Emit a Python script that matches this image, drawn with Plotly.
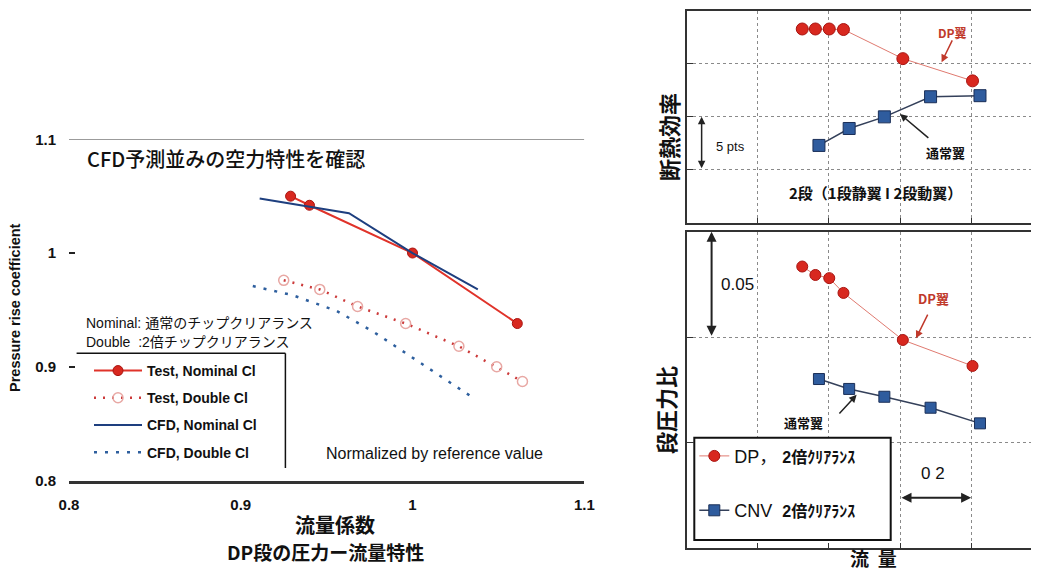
import plotly.graph_objects as go

OFF = 8  # page body margin offset of the rendered figure
W, H = 1039 - 2 * OFF, 579 - 2 * OFF

# ---------------- Left chart data (normalized) ----------------
test_nom_x = [0.929, 0.940, 1.000, 1.061]
test_nom_y = [1.050, 1.042, 1.000, 0.938]
test_dbl_x = [0.925, 0.946, 0.968, 0.996, 1.027, 1.049, 1.064]
test_dbl_y = [0.976, 0.968, 0.953, 0.938, 0.918, 0.900, 0.887]
cfd_nom_x = [0.911, 0.963, 1.000, 1.038]
cfd_nom_y = [1.048, 1.035, 1.000, 0.968]
cfd_dbl_x = [0.907, 0.930, 0.956, 0.977, 1.002, 1.034]
cfd_dbl_y = [0.971, 0.963, 0.949, 0.931, 0.906, 0.874]
left_ticks = [0.8, 0.9, 1.0, 1.1]
left_ticktext = ["0.8", "0.9", "1", "1.1"]

# ---------------- Right charts data ----------------
dp_flow = [0.325, 0.362, 0.401, 0.441, 0.608, 0.804]
dp_eff = [93.3, 93.3, 93.3, 93.25, 90.5, 88.4]
dp_pr = [1.4835, 1.4795, 1.478, 1.471, 1.4487, 1.4364]
cnv_flow = [0.372, 0.457, 0.556, 0.686, 0.825]
cnv_eff = [82.3, 83.9, 85.0, 86.9, 87.0]
cnv_pr = [1.4302, 1.4255, 1.4218, 1.4166, 1.4092]


def fx(px):
    return (px - OFF) / W


def fy(py):
    return 1 - (py - OFF) / H


LAT = "Liberation Sans, Arial, Noto Sans CJK JP, sans-serif"
JP = "Noto Sans CJK JP, sans-serif"

RED = "#d8281f"
RED_D = "#a81410"
BLUE = "#2f5c9e"
BLUE_D = "#1b2f58"

fig = go.Figure()

# Left chart traces
fig.add_trace(go.Scatter(
    x=test_nom_x, y=test_nom_y, mode="lines+markers", name="Test, Nominal Cl",
    legendgroup="a", legend="legend",
    line=dict(color="#e0332a", width=2),
    marker=dict(symbol="circle", size=10, color=RED, line=dict(color=RED_D, width=1)),
    xaxis="x", yaxis="y"))
fig.add_trace(go.Scatter(
    x=test_dbl_x, y=test_dbl_y, mode="lines+markers", name="Test, Double Cl",
    legendgroup="b", legend="legend",
    line=dict(color="#cc3a3a", width=2.5, dash="2px,7px"),
    marker=dict(symbol="circle-open", size=10, color="#e8a8a4", line=dict(width=1.5)),
    xaxis="x", yaxis="y"))
fig.add_trace(go.Scatter(
    x=cfd_nom_x, y=cfd_nom_y, mode="lines", name="CFD, Nominal Cl",
    legendgroup="c", legend="legend",
    line=dict(color="#1e3f7f", width=2),
    xaxis="x", yaxis="y"))
fig.add_trace(go.Scatter(
    x=cfd_dbl_x, y=cfd_dbl_y, mode="lines", name="CFD, Double Cl",
    legendgroup="d", legend="legend",
    line=dict(color="#2e5f9e", width=2.5, dash="3px,8px"),
    xaxis="x", yaxis="y"))

# Right top (efficiency)
fig.add_trace(go.Scatter(
    x=dp_flow, y=dp_eff, mode="lines+markers", showlegend=False,
    line=dict(color="#e07a70", width=1),
    marker=dict(symbol="circle", size=12, color=RED, line=dict(color=RED_D, width=1)),
    xaxis="x2", yaxis="y2"))
fig.add_trace(go.Scatter(
    x=cnv_flow, y=cnv_eff, mode="lines+markers", showlegend=False,
    line=dict(color="#34405a", width=1.5),
    marker=dict(symbol="square", size=12, color=BLUE, line=dict(color=BLUE_D, width=1)),
    xaxis="x2", yaxis="y2"))

# Right bottom (pressure ratio)
fig.add_trace(go.Scatter(
    x=dp_flow, y=dp_pr, mode="lines+markers", legend="legend2", legendgroup="p",
    name="DP，\u00a0<b><span style='font-size:16px'>2倍ｸﾘｱﾗﾝｽ</span></b>",
    line=dict(color="#e07a70", width=1),
    marker=dict(symbol="circle", size=11, color=RED, line=dict(color=RED_D, width=1)),
    xaxis="x3", yaxis="y3"))
fig.add_trace(go.Scatter(
    x=cnv_flow, y=cnv_pr, mode="lines+markers", legend="legend2", legendgroup="q",
    name="CNV\u00a0\u00a0<b><span style='font-size:16px'>2倍ｸﾘｱﾗﾝｽ</span></b>",
    line=dict(color="#34405a", width=1.5),
    marker=dict(symbol="square", size=11, color=BLUE, line=dict(color=BLUE_D, width=1)),
    xaxis="x3", yaxis="y3"))

tickfont_b = dict(family=LAT, size=15, color="#111", weight="bold")

# right panels: x grid every 0.2 "flow" units, 355.5 px per unit, left edge at px 686.7
x_right_end = (W + OFF - 686.7) / 355.5

right_x = dict(range=[0, x_right_end], dtick=0.2, tick0=0, showgrid=True, griddash="dot",
               gridcolor="#8a8a8a", gridwidth=1, showticklabels=False, zeroline=False,
               showline=True, mirror=True, linecolor="#333", linewidth=2,
               ticks="inside", ticklen=5, tickcolor="#333", automargin=False)

fig.update_layout(
    width=W, height=H, margin=dict(l=0, r=0, t=0, b=0, pad=0, autoexpand=False),
    paper_bgcolor="white", plot_bgcolor="rgba(0,0,0,0)",
    showlegend=True,
    xaxis=dict(domain=[fx(69), fx(584.3)], range=[0.8, 1.1], tickvals=left_ticks,
               ticktext=left_ticktext, showgrid=False, zeroline=False,
               showline=True, linecolor="#333", linewidth=2.5, ticks="",
               tickfont=tickfont_b, ticklabelstandoff=9, automargin=False),
    yaxis=dict(domain=[fy(480.5), fy(139.3)], range=[0.8, 1.1], tickvals=left_ticks,
               ticktext=left_ticktext, showgrid=False, zeroline=False, showline=False,
               ticks="inside", ticklen=6, tickwidth=2, tickcolor="#222",
               tickfont=tickfont_b, ticklabelstandoff=12, automargin=False),
    xaxis2=dict(domain=[fx(686.7), 1.0], anchor="y2", **right_x),
    yaxis2=dict(domain=[fy(222.7), fy(11)], anchor="x2", range=[75, 95], dtick=5, tick0=0,
                showgrid=True, griddash="dot", gridcolor="#8a8a8a", showticklabels=False,
                zeroline=False, showline=True, mirror=False, linecolor="#333", linewidth=2,
                ticks="inside", ticklen=6, tickcolor="#333", automargin=False),
    xaxis3=dict(domain=[fx(686.7), 1.0], anchor="y3", **right_x),
    yaxis3=dict(domain=[fy(548.3), fy(231.7)], anchor="x3", range=[1.35, 1.50], dtick=0.05,
                tick0=0, showgrid=True, griddash="dot", gridcolor="#8a8a8a",
                showticklabels=False, zeroline=False, showline=True, mirror=False,
                linecolor="#333", linewidth=2, ticks="inside", ticklen=6, tickcolor="#333",
                automargin=False),
    legend=dict(x=fx(89), y=fy(355), xanchor="left", yanchor="top",
                bgcolor="rgba(0,0,0,0)", borderwidth=0, itemwidth=48,
                tracegroupgap=6, traceorder="grouped",
                font=dict(family=LAT, size=14, color="#111", weight="bold")),
    legend2=dict(x=fx(694.3), y=fy(437.7), xanchor="left", yanchor="top",
                 bgcolor="rgba(0,0,0,0)", borderwidth=0,
                 tracegroupgap=28, traceorder="grouped",
                 font=dict(family=LAT, size=18, color="#111")),
)

shapes = [
    # top reference line at 1.1 in left chart
    dict(type="line", xref="x", yref="y", x0=0.8, x1=1.1, y0=1.1, y1=1.1,
         line=dict(color="#7a7a7a", width=1.5)),
    # left legend frame (top and right edges)
    dict(type="line", xref="paper", yref="paper", x0=fx(76.6), x1=fx(285.4),
         y0=fy(353.3), y1=fy(353.3), line=dict(color="#111", width=1.5)),
    dict(type="line", xref="paper", yref="paper", x0=fx(285.4), x1=fx(285.4),
         y0=fy(353.3), y1=fy(468), line=dict(color="#111", width=1.5)),
    # right legend frame
    dict(type="rect", xref="paper", yref="paper", x0=fx(694.3), x1=fx(890.7),
         y0=fy(540), y1=fy(437.7), layer="above", fillcolor="white",
         line=dict(color="#111", width=2)),
]
fig.update_layout(shapes=shapes)

ann = []


def txt(text, px, py, size, family=JP, bold=False, color="#111", angle=0, xanchor="center",
        weight=None):
    ann.append(dict(text=text, x=fx(px), y=fy(py), xref="paper", yref="paper",
                    showarrow=False, xanchor=xanchor, yanchor="middle", textangle=angle,
                    font=dict(family=family, size=size, color=color,
                              weight=weight if weight else ("bold" if bold else "normal"))))


# Left chart texts
txt("CFD予測並みの空力特性を確認", 85, 159, 20, family=JP, xanchor="left", weight=500)
txt("Pressure rise coefficient", 15, 308, 14.5, family=LAT, bold=True, angle=-90)
txt("流量係数", 335, 524, 20, bold=True)
txt("DP段の圧力ー流量特性", 325, 551, 19, bold=True)
txt("Nominal: 通常のチップクリアランス", 84, 323, 14, family=LAT, xanchor="left")
txt("Double\u00a0\u00a0:2倍チップクリアランス", 84, 342, 14, family=LAT, xanchor="left")
txt("Normalized by reference value", 434, 453, 16, family=LAT)

# Right chart texts
txt("断熱効率", 668, 137, 22, bold=True, angle=-90)
txt("段圧力比", 665, 410, 22, bold=True, angle=-90)
txt("流\u00a0\u00a0量", 873, 557, 19, bold=True)
txt("5 pts", 730, 146, 13, family=LAT)
txt("2段（1段静翼 I 2段動翼）", 875, 192, 15, bold=True)
txt("DP翼", 952, 32, 12, bold=True, color="#c0392b")
txt("通常翼", 945, 152, 13, bold=True)
txt("0.05", 737, 284, 17, family=LAT)
txt("DP翼", 933, 298, 13, bold=True, color="#c0392b")
txt("通常翼", 803, 422, 13, bold=True)
txt("0 2", 933, 473, 17, family=LAT)


def arrow(xr, yr, x, y, ax, ay, color="#222", both=False, width=1.5, head=2):
    ann.append(dict(text="", x=x, y=y, ax=ax, ay=ay, xref=xr, yref=yr,
                    axref=xr, ayref=yr, showarrow=True, arrowhead=head,
                    startarrowhead=head, arrowsize=1, startarrowsize=1,
                    arrowwidth=width, arrowcolor=color,
                    arrowside="end+start" if both else "end"))


arrow("x2", "y2", 0.042, 85, 0.042, 80, both=True)
arrow("x3", "y3", 0.070, 1.50, 0.070, 1.45, both=True, width=2)
arrow("x3", "y3", 0.8, 1.374, 0.6, 1.374, both=True, width=2)
arrow("x2", "y2", 0.717, 90.16, 0.749, 92.37, color="#c0392b")
arrow("x2", "y2", 0.600, 85.27, 0.684, 82.9)
arrow("x3", "y3", 0.645, 1.4495, 0.680, 1.4614, color="#c0392b")
arrow("x3", "y3", 0.478, 1.4227, 0.4256, 1.4132)

fig.update_layout(annotations=ann)

fig.write_html("out.html")
